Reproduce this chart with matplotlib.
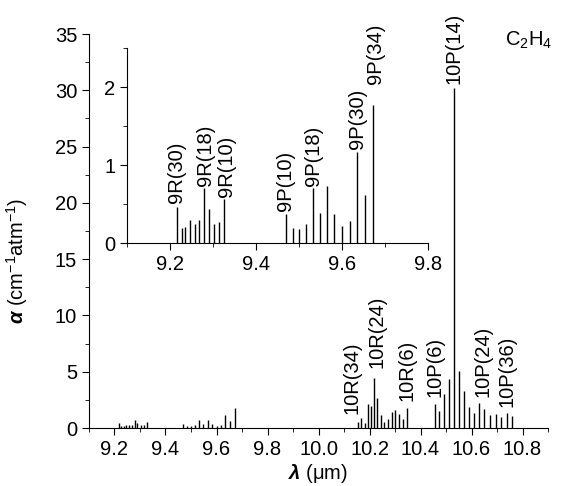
import matplotlib.pyplot as plt
from matplotlib.ticker import MultipleLocator

plt.rcParams['font.family'] = ['Liberation Sans', 'DejaVu Sans']
plt.rcParams['mathtext.fontset'] = 'custom'
plt.rcParams['mathtext.rm'] = 'Liberation Sans'
plt.rcParams['mathtext.it'] = 'Liberation Sans:italic'
plt.rcParams['mathtext.bf'] = 'Liberation Sans:bold'
plt.rcParams['mathtext.bfit'] = 'Liberation Sans:bold:italic'

# CO2 laser lines: rotational number J, wavelength (um), absorption coefficient
j_9r = [30, 28, 26, 24, 22, 20, 18, 16, 14, 12, 10]
wl_9r = [9.216, 9.227, 9.236, 9.246, 9.257, 9.268, 9.279, 9.290, 9.302, 9.314, 9.326]
a_9r = [0.46, 0.19, 0.21, 0.30, 0.24, 0.29, 0.70, 0.44, 0.25, 0.27, 0.56]

j_9p = [10, 12, 14, 16, 18, 20, 22, 24, 26, 28, 30, 32, 34]
wl_9p = [9.470, 9.485, 9.501, 9.517, 9.533, 9.549, 9.565, 9.582, 9.600, 9.618,
         9.635, 9.653, 9.672]
a_9p = [0.37, 0.19, 0.18, 0.24, 0.70, 0.39, 0.73, 0.37, 0.22, 0.28, 1.17, 0.61, 1.77]

j_10r = [34, 32, 30, 28, 26, 24, 22, 20, 18, 16, 14, 12, 10, 8, 6]
wl_10r = [10.155, 10.168, 10.181, 10.194, 10.205, 10.218, 10.231, 10.244, 10.257,
          10.273, 10.287, 10.301, 10.317, 10.330, 10.347]
a_10r = [0.51, 0.92, 0.44, 2.10, 1.93, 4.48, 2.64, 1.13, 0.51, 0.83, 1.42, 1.63,
         1.28, 0.83, 1.81]

j_10p = [6, 8, 10, 12, 14, 16, 18, 20, 22, 24, 26, 28, 30, 32, 34, 36]
wl_10p = [10.457, 10.474, 10.492, 10.511, 10.531, 10.550, 10.569, 10.589, 10.609,
          10.629, 10.649, 10.671, 10.695, 10.716, 10.738, 10.760]
a_10p = [2.10, 1.48, 2.99, 4.32, 30.2, 5.06, 3.26, 1.84, 1.31, 2.26, 1.72, 1.13,
         1.28, 0.98, 1.33, 1.04]

inset_labels = ['9R(30)', '9R(18)', '9R(10)', '9P(10)', '9P(18)', '9P(30)', '9P(34)']
main_labels = ['10R(34)', '10R(24)', '10R(6)', '10P(6)', '10P(14)', '10P(24)', '10P(36)']

# label offsets in points (dx, dy above the line top)
inset_offsets = {'9R(30)': (0, 3), '9R(18)': (1, 2), '9R(10)': (1.5, 2),
                 '9P(10)': (-0.5, 2), '9P(18)': (0, 2), '9P(30)': (0.5, 2),
                 '9P(34)': (1.5, 15)}
main_offsets = {'10R(34)': (-4, 6), '10R(24)': (2, 7), '10R(6)': (0, 5),
                '10P(6)': (0, 5), '10P(14)': (0, 3), '10P(24)': (3, 4),
                '10P(36)': (-4, 7)}

FS = 14.5

lines = {}
for band, js, wls, als in [('9R', j_9r, wl_9r, a_9r), ('9P', j_9p, wl_9p, a_9p),
                           ('10R', j_10r, wl_10r, a_10r), ('10P', j_10p, wl_10p, a_10p)]:
    for j, w, a in zip(js, wls, als):
        lines[f'{band}({j})'] = (w, a)

fig = plt.figure(figsize=(5.65, 4.86), dpi=100)
ax = fig.add_axes([0.1575, 0.1193, 0.8125, 0.8107])

for wls, als in [(wl_9r, a_9r), (wl_9p, a_9p), (wl_10r, a_10r), (wl_10p, a_10p)]:
    ax.vlines(wls, 0, als, color='black', lw=1.0)

ax.set_xlim(9.1, 10.9)
ax.set_ylim(0, 35)
ax.xaxis.set_major_locator(MultipleLocator(0.2))
ax.xaxis.set_minor_locator(MultipleLocator(0.1))
ax.yaxis.set_major_locator(MultipleLocator(5))
ax.yaxis.set_minor_locator(MultipleLocator(2.5))
for s in ['top', 'right']:
    ax.spines[s].set_visible(False)
ax.tick_params(which='major', direction='out', length=5, labelsize=FS)
ax.tick_params(which='minor', direction='out', length=3)
ax.set_xlabel(r'$\mathbfit{\lambda}$ ($\mathrm{\mu}$m)', fontsize=FS, labelpad=2)
ax.set_ylabel(r'$\mathbfit{\alpha}$ (cm$^{-1}$atm$^{-1}$)', fontsize=FS)
ax.yaxis.set_label_coords(-0.128, 0.425)

for name in main_labels:
    w, a = lines[name]
    dx, dy = main_offsets[name]
    ax.annotate(name, (w, a), xytext=(dx, dy), textcoords='offset points',
                rotation=90, ha='center', va='bottom', fontsize=FS)

fig.text(0.893, 0.918, r'C$_2$H$_4$', fontsize=FS, ha='left', va='center')

# zoom on the 9 um band
axi = fig.add_axes([0.2248, 0.5, 0.5327, 0.401])
for wls, als in [(wl_9r, a_9r), (wl_9p, a_9p)]:
    axi.vlines(wls, 0, als, color='black', lw=1.0)
axi.set_xlim(9.1, 9.8)
axi.set_ylim(0, 2.5)
axi.xaxis.set_major_locator(MultipleLocator(0.2))
axi.xaxis.set_minor_locator(MultipleLocator(0.1))
axi.yaxis.set_major_locator(MultipleLocator(1))
axi.yaxis.set_minor_locator(MultipleLocator(0.5))
for s in ['top', 'right']:
    axi.spines[s].set_visible(False)
axi.patch.set_alpha(0)
axi.tick_params(which='major', direction='out', length=5, labelsize=FS)
axi.tick_params(which='minor', direction='out', length=3)

for name in inset_labels:
    w, a = lines[name]
    dx, dy = inset_offsets[name]
    axi.annotate(name, (w, a), xytext=(dx, dy), textcoords='offset points',
                 rotation=90, ha='center', va='bottom', fontsize=FS)

fig.savefig('out.png', dpi=100)
